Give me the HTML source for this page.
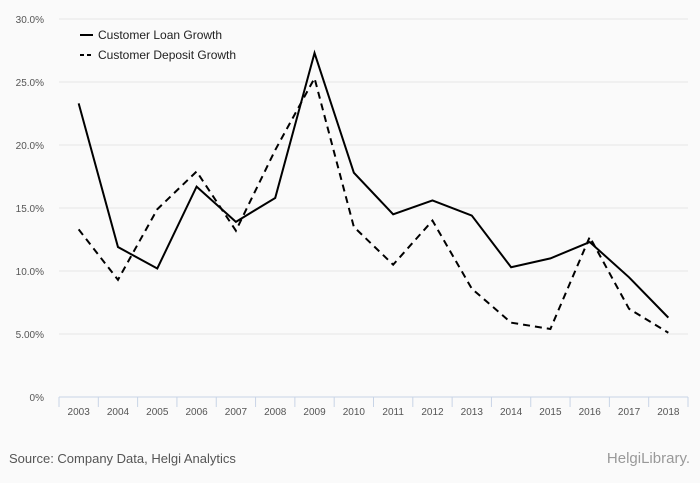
<!DOCTYPE html>
<html><head><meta charset="utf-8"><style>
body{margin:0;background:#fafafa;font-family:"Liberation Sans",sans-serif;}
svg{display:block}
</style></head><body>
<svg width="700" height="483" xmlns="http://www.w3.org/2000/svg">
<rect width="700" height="483" fill="#fafafa"/>
<g id="grid"></g><g id="axis"></g><g id="series"></g>
<g>
<line x1="80" y1="35" x2="93" y2="35" stroke="#000" stroke-width="2"/>
<text x="98" y="39" font-size="12" fill="#222">Customer Loan Growth</text>
<line x1="80" y1="55" x2="93" y2="55" stroke="#000" stroke-width="2" stroke-dasharray="4,3"/>
<text x="98" y="59" font-size="12" fill="#222">Customer Deposit Growth</text>
</g>
<text x="9" y="463" font-size="13" fill="#555">Source: Company Data, Helgi Analytics</text>
<text x="690" y="463" font-size="15" fill="#999" text-anchor="end">HelgiLibrary.</text>
</svg>
<script>
const years=["2003","2004","2005","2006","2007","2008","2009","2010","2011","2012","2013","2014","2015","2016","2017","2018"];
const loanGrowth=[23.3,11.9,10.2,16.7,13.9,15.8,27.3,17.8,14.5,15.6,14.4,10.3,11.0,12.3,9.5,6.3];
const depositGrowth=[13.3,9.3,14.9,17.9,13.2,19.6,25.3,13.5,10.5,14.0,8.6,5.9,5.4,12.7,7.0,5.1];
const yTicks=[0,5,10,15,20,25,30];
const yTickLabels=["0%","5.00%","10.0%","15.0%","20.0%","25.0%","30.0%"];
const NS="http://www.w3.org/2000/svg";
const x0=59,x1=688,yTop=19,yBot=397;
const bw=(x1-x0)/years.length;
const xS=i=>x0+bw*(i+0.5);
const yS=v=>yBot-(v/30)*(yBot-yTop);
function mk(t,a,p){const e=document.createElementNS(NS,t);for(const k in a)e.setAttribute(k,a[k]);p.appendChild(e);return e;}
const grid=document.getElementById('grid'),axis=document.getElementById('axis'),ser=document.getElementById('series');
yTicks.forEach((v,i)=>{
 if(v>0){const l=mk('line',{x1:x0,x2:x1,y1:yS(v),y2:yS(v),stroke:'#e6e6e6','stroke-width':1},grid);
 
 }
 const t=mk('text',{x:44,y:yS(v)+4,'font-size':10,fill:'#555','text-anchor':'end'},axis);t.textContent=yTickLabels[i];
 
 
});
const ax=mk('line',{x1:x0,x2:x1,y1:yBot,y2:yBot,stroke:'#c8d4e6','stroke-width':1},axis);


for(let i=0;i<=years.length;i++){const tk=mk('line',{x1:x0+bw*i,x2:x0+bw*i,y1:yBot,y2:yBot+10,stroke:'#c8d4e6'},axis);
 
 }
years.forEach((y,i)=>{const t=mk('text',{x:xS(i),y:yBot+18,'font-size':10,fill:'#555','text-anchor':'middle'},axis);t.textContent=y;
 
 });
function line(vals,dash,name){const p=mk('path',{d:vals.map((v,i)=>(i?'L':'M')+xS(i)+','+yS(v)).join(''),fill:'none',stroke:'#000','stroke-width':2},ser);
 if(dash)p.setAttribute('stroke-dasharray','7,5');
 
 }
line(loanGrowth,false,'loan-growth-line');
line(depositGrowth,true,'deposit-growth-line');
</script>
</body></html>
